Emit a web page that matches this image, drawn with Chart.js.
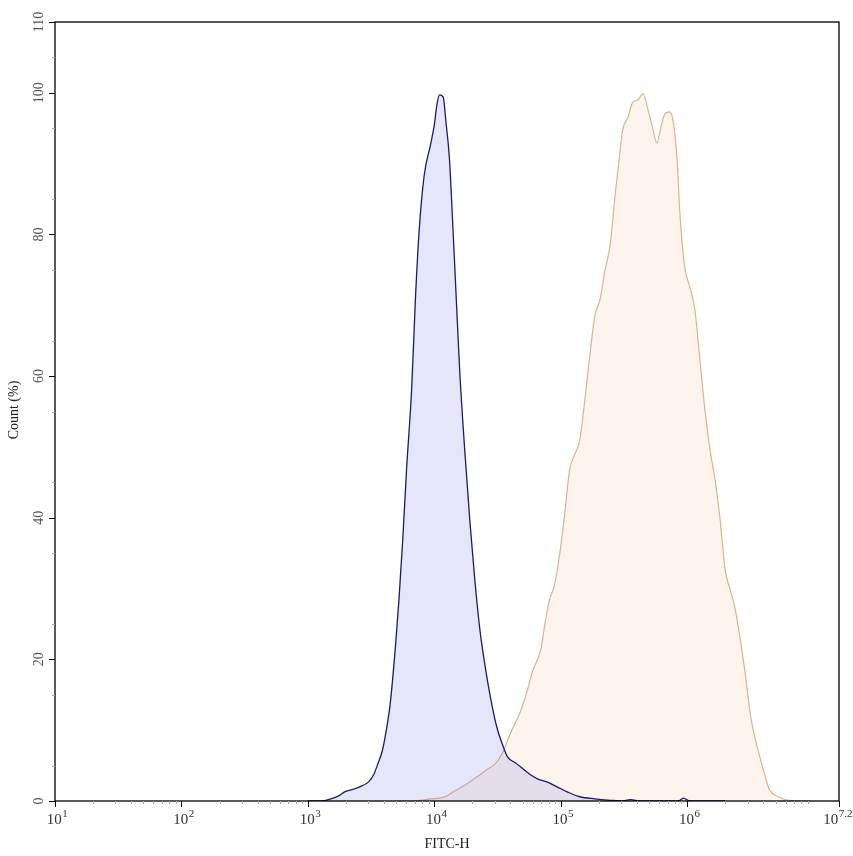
<!DOCTYPE html>
<html>
<head>
<meta charset="utf-8">
<script src="https://cdn.jsdelivr.net/npm/chart.js@4.4.0/dist/chart.umd.min.js"></script>
<style>
  html, body { margin: 0; padding: 0; background: #fff; }
</style>
</head>
<body>
<canvas id="myChart" width="853" height="856"></canvas>
<script>
// FITC-H values are kept as log10 exponents, counts in %
const blueLog = [3.00, 3.06, 3.14, 3.20, 3.25, 3.29, 3.35, 3.41, 3.48, 3.52, 3.55, 3.59, 3.62, 3.65, 3.69, 3.72, 3.75, 3.78, 3.82, 3.85, 3.88, 3.92, 3.97, 4.00, 4.02, 4.04, 4.07, 4.09, 4.12, 4.14, 4.17, 4.20, 4.24, 4.28, 4.32, 4.36, 4.40, 4.44, 4.49, 4.54, 4.58, 4.64, 4.69, 4.76, 4.82, 4.89, 4.97, 5.05, 5.15, 5.27, 5.39, 5.48, 5.55, 5.63, 5.78, 5.93, 5.97, 6.02, 6.15, 6.30];
const blueCount = [0, 0, 0.1, 0.4, 0.8, 1.3, 1.6, 2.0, 2.7, 3.7, 5.1, 7.2, 10.0, 13.6, 21.3, 28.4, 36.9, 46.8, 58.0, 70.8, 80.6, 88.4, 92.7, 95.5, 98.3, 99.7, 99.4, 96.2, 90.5, 83.5, 72.2, 60.9, 49.6, 39.7, 31.2, 24.2, 19.2, 15.0, 10.7, 7.9, 6.2, 5.4, 4.7, 3.7, 3.1, 2.7, 2.0, 1.3, 0.6, 0.3, 0.1, 0, 0.2, 0, 0, 0, 0.4, 0, 0, 0];

const orangeLog = [3.69, 3.81, 3.89, 3.97, 4.04, 4.10, 4.15, 4.22, 4.28, 4.36, 4.42, 4.48, 4.54, 4.58, 4.62, 4.68, 4.73, 4.78, 4.84, 4.88, 4.91, 4.95, 4.99, 5.03, 5.07, 5.11, 5.15, 5.19, 5.23, 5.27, 5.31, 5.35, 5.39, 5.43, 5.47, 5.49, 5.53, 5.57, 5.61, 5.65, 5.69, 5.72, 5.76, 5.79, 5.82, 5.86, 5.89, 5.92, 5.94, 5.98, 6.02, 6.06, 6.10, 6.14, 6.18, 6.22, 6.26, 6.30, 6.34, 6.38, 6.42, 6.46, 6.50, 6.54, 6.58, 6.62, 6.65, 6.72, 6.81, 6.97];
const orangeCount = [0, 0, 0.1, 0.3, 0.4, 0.7, 1.3, 2.0, 2.7, 3.7, 4.5, 5.2, 6.8, 8.6, 10.3, 12.6, 15.3, 18.5, 21.3, 25.6, 28.4, 30.5, 34.7, 40.4, 46.8, 48.9, 51.0, 56.6, 63.0, 68.6, 70.8, 75.0, 78.5, 85.6, 92.0, 94.8, 96.5, 98.7, 99.0, 99.9, 97.6, 95.5, 92.9, 95.0, 96.9, 97.3, 95.8, 90.5, 83.5, 75.4, 72.6, 69.4, 62.3, 55.2, 49.6, 45.3, 39.7, 32.6, 29.8, 27.0, 22.7, 17.8, 12.1, 8.6, 5.8, 3.2, 1.6, 0.6, 0.1, 0];

const xTickExp = [1, 2, 3, 4, 5, 6, 7.2];
const xTickLabels = ['1', '2', '3', '4', '5', '6', '7.2'];
const yTicks = [0, 20, 40, 60, 80, 100, 110];

const toPoints = (logs, counts) => logs.map((e, i) => ({ x: Math.pow(10, e), y: counts[i] }));

const serif = "'Liberation Serif', 'Times New Roman', serif";

const axesPlugin = {
  id: 'axesPlugin',
  afterDraw(chart) {
    const ctx = chart.ctx;
    const a = chart.chartArea;
    const xs = chart.scales.x;
    const ys = chart.scales.y;
    ctx.save();

    // frame
    ctx.strokeStyle = '#000';
    ctx.lineWidth = 1.3;
    ctx.strokeRect(a.left, a.top, a.right - a.left, a.bottom - a.top);

    // x minor ticks
    ctx.lineWidth = 1;
    ctx.strokeStyle = '#aaa';
    for (let d = 1; d <= 7; d++) {
      for (let m = 2; m <= 9; m++) {
        const v = m * Math.pow(10, d);
        if (v >= Math.pow(10, 7.2)) continue;
        const px = Math.round(xs.getPixelForValue(v)) + 0.5;
        ctx.beginPath();
        ctx.moveTo(px, a.bottom);
        ctx.lineTo(px, a.bottom + 3);
        ctx.stroke();
      }
    }
    // y minor ticks
    for (let v = 5; v < 110; v += 10) {
      const py = Math.round(ys.getPixelForValue(v)) + 0.5;
      ctx.beginPath();
      ctx.moveTo(a.left, py);
      ctx.lineTo(a.left - 3, py);
      ctx.stroke();
    }

    // major ticks
    ctx.strokeStyle = '#000';
    xTickExp.forEach(e => {
      const px = Math.round(xs.getPixelForValue(Math.pow(10, e))) + 0.5;
      ctx.beginPath();
      ctx.moveTo(px, a.bottom);
      ctx.lineTo(px, a.bottom + 6);
      ctx.stroke();
    });
    yTicks.forEach(v => {
      const py = Math.round(ys.getPixelForValue(v)) + 0.5;
      ctx.beginPath();
      ctx.moveTo(a.left, py);
      ctx.lineTo(a.left - 6, py);
      ctx.stroke();
    });

    // x tick labels 10^n
    ctx.fillStyle = '#333';
    ctx.textBaseline = 'alphabetic';
    ctx.textAlign = 'left';
    xTickExp.forEach((e, i) => {
      const px = xs.getPixelForValue(Math.pow(10, e));
      ctx.font = '15px ' + serif;
      const wb = ctx.measureText('10').width;
      ctx.font = '11px ' + serif;
      const we = ctx.measureText(xTickLabels[i]).width;
      let left = px - (wb + we) / 2 + 2;
      if (left + wb + we > chart.width - 1) left = chart.width - 1 - wb - we;
      ctx.font = '15px ' + serif;
      ctx.fillText('10', left, 824);
      ctx.font = '11px ' + serif;
      ctx.fillText(xTickLabels[i], left + wb + 0.5, 817);
    });

    // y tick labels, rotated
    ctx.fillStyle = '#555';
    ctx.font = '14px ' + serif;
    ctx.textAlign = 'center';
    yTicks.forEach(v => {
      const py = ys.getPixelForValue(v);
      ctx.save();
      ctx.translate(43, py);
      ctx.rotate(-Math.PI / 2);
      ctx.fillText(String(v), 0, 0);
      ctx.restore();
    });

    // axis titles
    ctx.fillStyle = '#222';
    ctx.font = '14px ' + serif;
    ctx.fillText('FITC-H', 447, 848);
    ctx.save();
    ctx.translate(18, 410);
    ctx.rotate(-Math.PI / 2);
    ctx.fillText('Count (%)', 0, 0);
    ctx.restore();

    ctx.restore();
  }
};

const myChartRef = document.getElementById('myChart').getContext('2d');

new Chart(myChartRef, {
  type: 'line',
  data: {
    datasets: [
      {
        label: 'Control',
        data: toPoints(blueLog, blueCount),
        borderColor: '#1b1b6c',
        backgroundColor: 'rgba(100, 100, 230, 0.16)',
        borderWidth: 1.3,
        fill: 'origin',
        pointRadius: 0,
        cubicInterpolationMode: 'monotone',
        order: 0
      },
      {
        label: 'Sample',
        data: toPoints(orangeLog, orangeCount),
        borderColor: '#d8b48c',
        backgroundColor: 'rgba(248, 215, 185, 0.26)',
        borderWidth: 1.2,
        fill: 'origin',
        pointRadius: 0,
        cubicInterpolationMode: 'monotone',
        order: 1
      }
    ]
  },
  options: {
    responsive: false,
    animation: false,
    devicePixelRatio: 1,
    layout: { padding: { top: 22, right: 14, left: 0, bottom: 0 } },
    plugins: {
      legend: { display: false },
      tooltip: { enabled: false }
    },
    scales: {
      x: {
        type: 'logarithmic',
        min: 10,
        max: Math.pow(10, 7.2),
        grid: { display: false },
        border: { display: false },
        ticks: { display: false },
        afterFit(scale) { scale.height = 55; }
      },
      y: {
        type: 'linear',
        min: 0,
        max: 110,
        grid: { display: false },
        border: { display: false },
        ticks: { display: false },
        afterFit(scale) { scale.width = 55; }
      }
    }
  },
  plugins: [axesPlugin]
});
</script>
</body>
</html>
